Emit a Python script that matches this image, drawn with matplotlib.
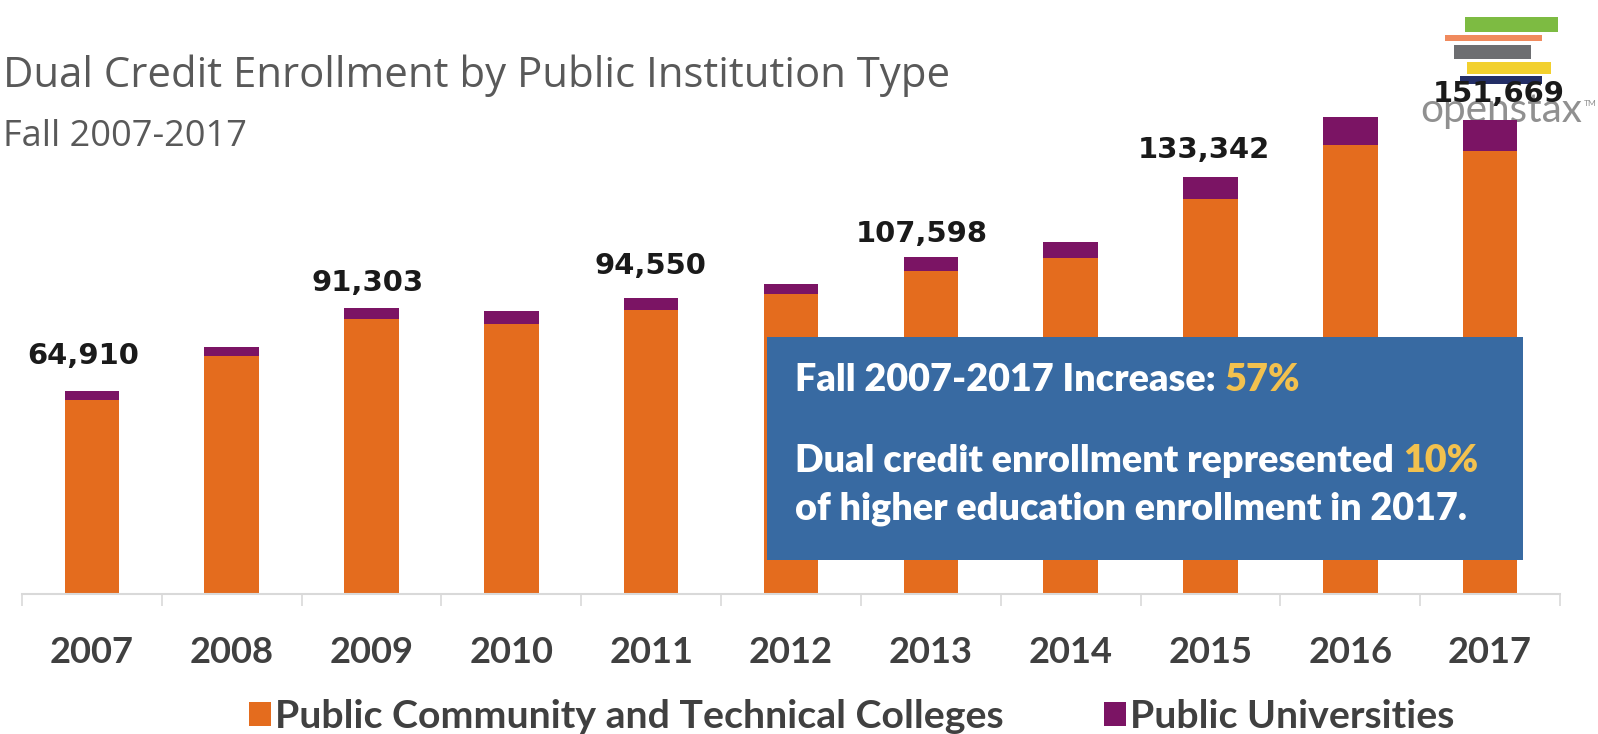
import matplotlib
matplotlib.use("Agg")
import matplotlib.pyplot as plt
from matplotlib.patches import Rectangle
from matplotlib.font_manager import FontProperties
from matplotlib.ticker import FixedLocator

# ---------------- data ----------------
years = ["2007", "2008", "2009", "2010", "2011", "2012", "2013", "2014", "2015", "2016", "2017"]
community_tech = [62010, 76200, 87803, 86300, 90750, 95900, 103398, 107400, 126342, 143600, 141469]
universities = [2900, 2800, 3500, 4200, 3800, 3200, 4200, 5100, 7000, 9000, 10200]
labeled_years = ["2007", "2009", "2011", "2013", "2015", "2017"]
series_names = ["Public Community and Technical Colleges", "Public Universities"]
title_text = "Dual Credit Enrollment by Public Institution Type"
subtitle_text = "Fall 2007-2017"
box_line1 = ("Fall 2007-2017 Increase:", "57%")
box_line2 = ("Dual credit enrollment represented", "10%")
box_line3 = "of higher education enrollment in 2017."

# ---------------- style ----------------
W, H = 1598, 734
ORANGE = "#E46C1E"
PURPLE = "#7B1464"
BLUE = "#386AA2"
GOLD = "#F2C14E"
AXIS_GRAY = "#D9D9D9"
TEXT_GRAY = "#404040"
TITLE_GRAY = "#595959"
PX_PER_1000 = 3.128
label_offsets_px = [(-9, 27), (-4, 17), (-1, 24), (-9, 15), (-7, 19), (9, 18)]

def fx(px):
    return px / W

def fy(py):
    return 1 - py / H

def px2pt(px):
    return px * 72 / 100

fig = plt.figure(figsize=(W / 100, H / 100), dpi=100)
fig.patch.set_facecolor("white")
renderer = fig.canvas.get_renderer()

def fit_width(t, target_px):
    w = t.get_window_extent(renderer).width
    t.set_fontsize(t.get_fontsize() * target_px / w)
    return t.get_fontsize()

def measure_size(text, prop, target_px):
    t = fig.text(0, 0, text, fontproperties=prop)
    s = fit_width(t, target_px)
    t.remove()
    return s

# ---------------- logo (watermark) ----------------
logo = [
    (1465, 17, 1558, 32, "#7DBB42"),
    (1445, 35, 1542, 41, "#F08A5D"),
    (1454, 45, 1531, 59, "#6D6E71"),
    (1467, 62, 1551, 74, "#F2D02E"),
    (1460, 76, 1542, 84, "#232E66"),
]
for x0, y0, x1, y1, c in logo:
    fig.patches.append(Rectangle((fx(x0), fy(y1)), fx(x1 - x0), (y1 - y0) / H,
                                 transform=fig.transFigure, facecolor=c,
                                 edgecolor="none", zorder=-2))
ot = fig.text(fx(1420), fy(122), "openstax", family="Lato", color="#909090",
              fontsize=27, va="baseline", ha="left", zorder=-1)
fit_width(ot, 162)
fig.text(fx(1584), fy(106), "TM", family="Lato", color="#909090",
         fontsize=6, va="baseline", ha="left", zorder=-1)

# ---------------- axes ----------------
ax_bottom_px, ax_top_px = 594, 30
ax = fig.add_axes([fx(22), fy(ax_bottom_px), fx(1560 - 22), (ax_bottom_px - ax_top_px) / H])
ax.patch.set_alpha(0)
ymax = (ax_bottom_px - ax_top_px) / PX_PER_1000 * 1000
ax.set_xlim(-0.5, len(years) - 0.5)
ax.set_ylim(0, ymax)

xs = list(range(len(years)))
bars1 = ax.bar(xs, community_tech, width=0.39, color=ORANGE, label=series_names[0], zorder=2)
bars2 = ax.bar(xs, universities, width=0.39, bottom=community_tech, color=PURPLE,
               label=series_names[1], zorder=2)

for s in ["top", "left", "right"]:
    ax.spines[s].set_visible(False)
ax.spines["bottom"].set_color(AXIS_GRAY)
ax.spines["bottom"].set_linewidth(1.5)
ax.set_yticks([])

tick_prop = FontProperties(family="Lato", weight="bold", size=26)
tick_size = measure_size("2009", tick_prop, 84)
ax.set_xticks(xs)
ax.set_xticklabels(years, fontfamily="Lato", fontweight="bold", fontsize=tick_size,
                   color=TEXT_GRAY)
ax.tick_params(axis="x", which="major", length=0, pad=px2pt(42))
ax.xaxis.set_minor_locator(FixedLocator([i - 0.5 for i in range(len(years) + 1)]))
ax.tick_params(axis="x", which="minor", length=px2pt(12), width=1.2, color=AXIS_GRAY,
               direction="out")

# ---------------- data labels ----------------
totals = [a + b for a, b in zip(community_tech, universities)]
lab_prop = FontProperties(family="DejaVu Sans", weight="bold", size=20)
lab_size = measure_size("91,303", lab_prop, 112)
for (dx, dy), yr in zip(label_offsets_px, labeled_years):
    i = years.index(yr)
    ax.annotate(f"{totals[i]:,}", (i, totals[i]), xytext=(px2pt(dx), px2pt(dy)),
                textcoords="offset points", ha="center", va="baseline",
                family="DejaVu Sans", weight="bold", fontsize=lab_size,
                color="#1A1A1A", zorder=5, annotation_clip=False)

# ---------------- title ----------------
tt = fig.text(fx(3), fy(87), title_text, family="Open Sans", color=TITLE_GRAY,
              fontsize=26, va="baseline", ha="left")
fit_width(tt, 948)
st = fig.text(fx(3), fy(146), subtitle_text, family="Open Sans", color=TITLE_GRAY,
              fontsize=24, va="baseline", ha="left")
fit_width(st, 244)

# ---------------- info box ----------------
bx0, by0, bx1, by1 = 767, 337, 1523, 560
fig.patches.append(Rectangle((fx(bx0), fy(by1)), fx(bx1 - bx0), (by1 - by0) / H,
                             transform=fig.transFigure, facecolor=BLUE,
                             edgecolor="none", zorder=10))
box_kw = dict(family="Lato", weight="heavy", va="baseline", ha="left", zorder=11)
t2 = fig.text(fx(795), fy(472), box_line2[0] + " " + box_line2[1], color="white",
              fontsize=24, **box_kw)
box_size = fit_width(t2, 683)
t2.remove()

def two_color(x_px, y_px, white_part, gold_part):
    tw = fig.text(fx(x_px), fy(y_px), white_part, color="white", fontsize=box_size, **box_kw)
    ext = tw.get_window_extent(renderer)
    space = box_size * 100 / 72 * 0.24
    fig.text(fx(ext.x1 + space), fy(y_px), gold_part, color=GOLD, fontsize=box_size, **box_kw)

two_color(795, 391, *box_line1)
two_color(795, 472, *box_line2)
fig.text(fx(795), fy(520), box_line3, color="white", fontsize=box_size, **box_kw)

# ---------------- legend ----------------
leg_prop = FontProperties(family="Lato", weight="bold", size=24)
leg_size = measure_size(series_names[0], leg_prop, 729)
leg_prop = FontProperties(family="Lato", weight="bold", size=leg_size)
fs_px = leg_size * 100 / 72
leg = fig.legend(handles=[bars1, bars2], labels=series_names, prop=leg_prop,
                 loc="lower left", bbox_to_anchor=(fx(249), 0.5 / H), ncol=2,
                 frameon=False, borderpad=0, borderaxespad=0,
                 handlelength=22 / fs_px, handleheight=22 / fs_px,
                 handletextpad=4 / fs_px, columnspacing=100 / fs_px)
for t in leg.get_texts():
    t.set_color(TEXT_GRAY)

fig.savefig("out.png", dpi=100, facecolor="white")
